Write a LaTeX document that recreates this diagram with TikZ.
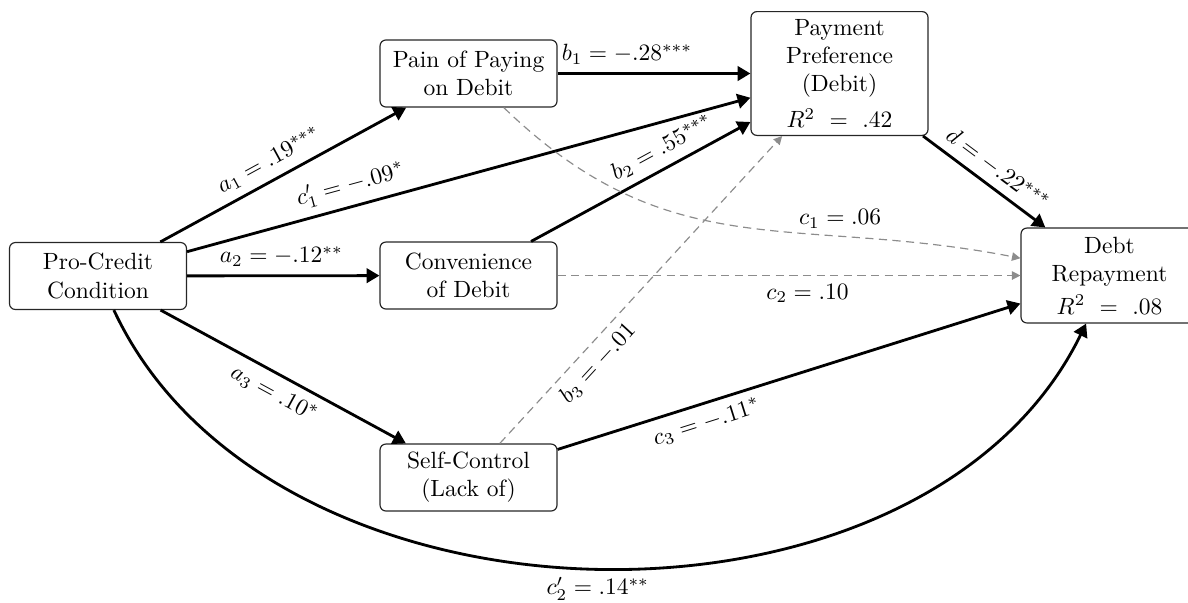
\documentclass[tikz,border=0pt]{standalone}
\usetikzlibrary{arrows.meta}
\begin{document}
\begin{tikzpicture}[x=0.4255pt,y=0.4255pt,
  box/.style={draw=black!85, line width=0.5pt, rounded corners=2.5pt, align=center,
    minimum width=75.3pt, minimum height=28.5pt, inner sep=3.33pt},
  strong/.style={line width=1.2pt, -{Triangle[length=5.5pt,width=6.2pt]}},
  weak/.style={black!45, line width=0.5pt, dash pattern=on 3.5pt off 2.3pt,
    -{Triangle[length=3.6pt,width=3.6pt]}},
  lab/.style={text=black}
]
\useasboundingbox (0,0) rectangle (1188,-602);
\node[box] (pc) at (98,-276) {Pro-Credit\\Condition};
\node[box] (pain) at (468.5,-73.5) {Pain of Paying\\on Debit};
\node[box] (conv) at (468.5,-275.5) {Convenience\\of Debit};
\node[box] (self) at (468.5,-477.5) {Self-Control\\(Lack of)};
\node[box, minimum height=52.6pt] (pay) at (839.5,-73.5) {Payment\\Preference\\(Debit)\\[3.2pt]$R^2\ =\ .42$};
\node[box, minimum height=40.4pt] (debt) at (1109.5,-275.5) {Debt\\Repayment\\[2pt]$R^2\ =\ .08$};

\draw[strong] (pc) -- node[lab, pos=0.48, above, sloped] {$a_1 = .19^{***}$} (pain);
\draw[strong] (pc) -- node[lab, pos=0.3, above, sloped] {$c'_1 = -.09^{*}$} (pay);
\draw[strong] (pc) -- node[lab, pos=0.49, above] {$a_2 = -.12^{**}$} (conv);
\draw[strong] (pc) -- node[lab, pos=0.5, below, sloped] {$a_3 = .10^{*}$} (self);
\draw[strong] (pain) -- node[lab, pos=0.36, above] {$b_1 = -.28^{***}$} (pay);
\draw[strong] (conv) -- node[lab, pos=0.64, above, sloped] {$b_2 = .55^{***}$} (pay);
\draw[weak] (self) -- node[lab, pos=0.3, below, sloped] {$b_3 = -.01$} (pay);
\draw[weak] (pain) to[out=-44, in=169, looseness=1.1] node[lab, pos=0.7, above] {$c_1 = .06$} (debt);
\draw[weak] (conv) -- node[lab, pos=0.54, below] {$c_2 = .10$} (debt);
\draw[strong] (pay) -- node[lab, pos=0.52, above, sloped] {$d = -.22^{***}$} (debt);
\draw[strong] (self) -- node[lab, pos=0.31, below, sloped] {$c_3 = -.11^{*}$} (debt);
\draw[strong] (pc) to[out=-65, in=-116, looseness=0.975] node[lab, pos=0.5, below] {$c'_2 = .14^{**}$} (debt);
\end{tikzpicture}
\end{document}
